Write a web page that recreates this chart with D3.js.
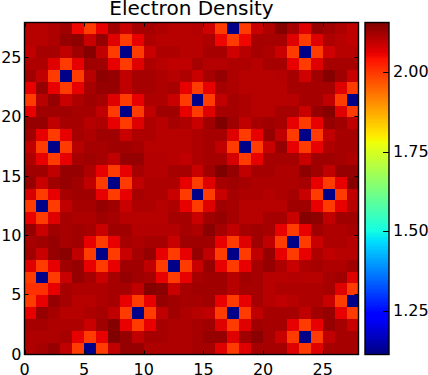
<!DOCTYPE html>
<html><head><meta charset="utf-8">
<script src="https://cdn.jsdelivr.net/npm/d3@7"></script>
<style>html,body{margin:0;padding:0;background:#fff}svg{display:block}text{font-family:"DejaVu Sans";fill:#000}</style>
</head><body><svg id="c" width="428" height="375"></svg>
<script>
const titleText = "Electron Density";
const axisTicks = [0, 5, 10, 15, 20, 25];
const colorTicks = [1.25, 1.5, 1.75, 2.0];
const vMin = 1.112, vMax = 2.157;
const O = 1.998, P = 1.12;
const row27 = [2.107,2.107,2.114,2.128,2.056,O,2.063,2.128,2.092,2.121,2.121,2.114,2.107,2.107,2.110,2.085,O,P,O,2.092,2.114,2.150,2.121,2.071,2.136,2.128,2.114,2.099];
const row26 = [2.107,2.107,2.114,2.136,2.143,2.092,2.136,2.071,O,2.063,2.114,2.107,2.107,2.107,2.107,2.114,2.056,O,2.056,2.121,2.121,2.121,2.071,O,2.071,2.114,2.107,2.099];
const row25 = [2.099,2.121,2.121,2.099,2.128,2.150,2.099,O,P,O,2.092,2.114,2.114,2.107,2.107,2.121,2.121,2.085,2.107,2.121,2.114,2.092,O,P,O,2.085,2.107,2.107];
const row24 = [2.114,2.114,2.071,O,2.063,2.128,2.128,2.063,O,2.071,2.114,2.107,2.099,2.099,2.121,2.110,2.110,2.114,2.114,2.107,2.121,2.121,2.063,O,2.071,2.121,2.121,2.121];
const row23 = [2.128,2.099,O,P,O,2.107,2.143,2.136,2.099,2.121,2.121,2.114,2.107,2.114,2.092,2.121,2.136,2.114,2.107,2.107,2.107,2.110,2.121,2.085,2.128,2.150,2.128,2.092];
const row22 = [2.063,2.136,2.063,O,2.063,2.121,2.136,2.136,2.099,2.121,2.121,2.114,2.121,2.063,O,2.063,2.121,2.114,2.107,2.107,2.107,2.107,2.121,2.121,2.121,2.121,2.071,O];
const row21 = [O,2.107,2.136,2.092,2.114,2.128,2.121,2.071,O,2.063,2.114,2.114,2.092,O,P,O,2.099,2.121,2.114,2.107,2.107,2.107,2.107,2.121,2.121,2.099,O,P];
const row20 = [2.063,2.128,2.128,2.128,2.121,2.121,2.099,O,P,O,2.099,2.128,2.128,2.063,O,2.071,2.121,2.121,2.114,2.107,2.107,2.121,2.121,2.092,2.136,2.150,2.071,O];
const row19 = [2.136,2.136,2.099,2.121,2.121,2.107,2.114,2.063,O,2.071,2.114,2.107,2.121,2.114,2.092,2.128,2.157,2.128,2.099,2.121,2.128,2.121,2.063,O,2.063,2.136,2.128,2.099];
const row18 = [2.128,2.063,O,2.063,2.121,2.114,2.128,2.128,2.092,2.114,2.114,2.107,2.107,2.107,2.114,2.121,2.121,2.071,O,2.063,2.136,2.099,O,P,O,2.099,2.121,2.121];
const row17 = [2.099,O,P,O,2.107,2.121,2.121,2.128,2.128,2.121,2.107,2.107,2.107,2.107,2.114,2.121,2.099,O,P,O,2.092,2.136,2.063,O,2.063,2.114,2.121,2.121];
const row16 = [2.114,2.063,O,2.063,2.121,2.128,2.121,2.099,2.136,2.136,2.110,2.110,2.107,2.099,2.114,2.121,2.121,2.078,O,2.063,2.121,2.121,2.121,2.092,2.128,2.128,2.121,2.114];
const row15 = [2.128,2.128,2.099,2.136,2.136,2.114,2.063,O,2.063,2.121,2.110,2.110,2.121,2.121,2.092,2.128,2.157,2.136,2.099,2.121,2.121,2.114,2.114,2.143,2.128,2.099,2.136,2.136];
const row14 = [2.136,2.092,2.128,2.136,2.128,2.099,O,P,O,2.099,2.114,2.114,2.114,2.063,O,2.071,2.121,2.128,2.121,2.114,2.114,2.114,2.114,2.121,2.063,O,2.063,2.150];
const row13 = [2.078,O,2.063,2.121,2.128,2.128,2.063,O,2.063,2.121,2.114,2.114,2.092,O,P,O,2.092,2.121,2.114,2.114,2.110,2.114,2.121,2.092,O,P,O,2.099];
const row12 = [O,P,O,2.099,2.121,2.121,2.136,2.128,2.092,2.114,2.114,2.107,2.114,2.063,O,2.071,2.128,2.121,2.107,2.107,2.107,2.107,2.128,2.128,2.063,O,2.063,2.107];
const row11 = [2.063,O,2.071,2.121,2.114,2.114,2.128,2.121,2.107,2.107,2.107,2.107,2.121,2.121,2.092,2.128,2.136,2.121,2.107,2.107,2.121,2.121,2.092,2.150,2.143,2.099,2.128,2.128];
const row10 = [2.136,2.092,2.128,2.121,2.128,2.121,2.092,2.128,2.128,2.110,2.110,2.110,2.110,2.121,2.114,2.147,2.121,2.099,2.121,2.128,2.121,2.063,O,2.063,2.128,2.114,2.114,2.121];
const row9 = [2.121,2.128,2.136,2.121,2.128,2.063,O,2.063,2.121,2.114,2.121,2.121,2.092,2.128,2.128,2.128,2.063,O,2.071,2.128,2.099,O,P,O,2.092,2.114,2.114,2.107];
const row8 = [2.128,2.092,2.136,2.147,2.099,O,P,O,2.092,2.121,2.136,2.063,O,2.063,2.136,2.099,O,P,O,2.099,2.136,2.063,O,2.063,2.114,2.099,2.107,2.107];
const row7 = [2.071,O,2.063,2.128,2.136,2.063,O,2.063,2.128,2.128,2.099,O,P,O,2.092,2.136,2.063,O,2.063,2.121,2.136,2.114,2.092,2.114,2.121,2.114,2.114,2.128];
const row6 = [O,P,O,2.092,2.136,2.121,2.092,2.121,2.136,2.128,2.121,2.063,O,2.063,2.121,2.128,2.128,2.107,2.128,2.121,2.107,2.107,2.110,2.107,2.107,2.121,2.128,2.071];
const row5 = [2.010,2.010,2.063,2.121,2.114,2.114,2.114,2.121,2.121,2.099,2.150,2.147,2.092,2.121,2.128,2.128,2.128,2.107,2.121,2.121,2.107,2.114,2.114,2.114,2.114,2.121,2.071,O];
const row4 = [O,2.063,2.136,2.121,2.107,2.107,2.114,2.121,2.063,O,2.063,2.136,2.128,2.121,2.121,2.128,2.063,O,2.063,2.121,2.107,2.099,2.107,2.114,2.114,2.092,O,P];
const row3 = [2.063,2.136,2.121,2.107,2.107,2.114,2.121,2.099,O,P,O,2.099,2.128,2.114,2.107,2.099,O,P,O,2.099,2.121,2.121,2.121,2.099,2.128,2.136,2.063,O];
const row2 = [2.121,2.121,2.114,2.114,2.114,2.092,2.128,2.150,2.063,O,2.063,2.121,2.114,2.114,2.121,2.128,2.071,O,2.071,2.128,2.121,2.121,2.063,O,2.063,2.136,2.121,2.092];
const row1 = [2.114,2.114,2.114,2.121,2.063,O,2.063,2.157,2.136,2.099,2.121,2.121,2.114,2.114,2.121,2.136,2.136,2.071,2.128,2.147,2.121,2.092,O,P,O,2.099,2.121,2.121];
const row0 = [2.114,2.121,2.136,2.099,O,P,O,2.099,2.136,2.136,2.114,2.114,2.114,2.114,2.121,2.121,2.071,O,2.071,2.121,2.121,2.121,2.071,O,2.071,2.121,2.121,2.121];
const rows = [row0,row1,row2,row3,row4,row5,row6,row7,row8,row9,row10,row11,row12,row13,row14,row15,row16,row17,row18,row19,row20,row21,row22,row23,row24,row25,row26,row27];

// matplotlib "jet"
const rS = d3.scaleLinear([0,.35,.66,.89,1],[0,0,1,1,.5]);
const gS = d3.scaleLinear([0,.125,.375,.64,.91,1],[0,0,1,1,0,0]);
const bS = d3.scaleLinear([0,.11,.34,.65,1],[.5,1,1,0,0]);
const norm = d3.scaleLinear([vMin,vMax],[0,1]).clamp(true);
const jet = v => { const t = norm(v); return d3.rgb(rS(t)*255,gS(t)*255,bS(t)*255).formatHex(); };

const L=24.5,R=358.5,T=22.5,B=354.5,CL=365,CR=389;
const svg = d3.select("#c");
const x = d3.scaleLinear([0,28],[L,R]);
const y = d3.scaleLinear([0,28],[B,T]);
const c = d3.scaleLinear([vMin,vMax],[B,T]);

svg.append("g").attr("shape-rendering","crispEdges").selectAll("g").data(rows).join("g")
  .each(function(r,j){
    d3.select(this).selectAll("rect").data(r).join("rect")
      .attr("x",(d,i)=>x(i)).attr("y",y(j+1))
      .attr("width",(d,i)=>x(i+1)-x(i)).attr("height",y(j)-y(j+1))
      .attr("fill",d=>jet(d));
  });

const step=(vMax-vMin)/256;
const ramp = d3.range(256).map(i=>vMin+step*i);
svg.append("g").attr("shape-rendering","crispEdges").selectAll("rect").data(ramp).join("rect")
  .attr("x",CL).attr("width",CR-CL)
  .attr("y",d=>c(d+step)).attr("height",d=>c(d)-c(d+step)+.6)
  .attr("fill",d=>jet(d+step/2));

const frame = svg.append("g").attr("fill","none").attr("stroke","#000").attr("stroke-width",1.4);
frame.append("rect").attr("x",L).attr("y",T).attr("width",R-L).attr("height",B-T);
frame.append("rect").attr("x",CL).attr("y",T).attr("width",CR-CL).attr("height",B-T);

const tk = svg.append("g").attr("stroke","#000").attr("stroke-width",1);
axisTicks.forEach(v=>{
  const xp=Math.round(x(v))+.5, yp=Math.round(y(v))-.5;
  tk.append("line").attr("x1",xp).attr("x2",xp).attr("y1",B).attr("y2",B-4);
  tk.append("line").attr("x1",xp).attr("x2",xp).attr("y1",T).attr("y2",T+4);
  tk.append("line").attr("x1",L).attr("x2",L+4).attr("y1",yp).attr("y2",yp);
  tk.append("line").attr("x1",R).attr("x2",R-4).attr("y1",yp).attr("y2",yp);
});
colorTicks.forEach(v=>{
  const yp=Math.round(c(v))+.5;
  tk.append("line").attr("x1",CR).attr("x2",CR-6).attr("y1",yp).attr("y2",yp);
});

const fs=16;
const tx = svg.append("g").attr("font-size",fs);
tx.selectAll(".xl").data(axisTicks).join("text").attr("class","xl")
  .attr("x",d=>x(d)).attr("y",374.5).attr("text-anchor","middle").text(d=>d);
tx.selectAll(".yl").data(axisTicks).join("text").attr("class","yl")
  .attr("x",L-3).attr("y",d=>y(d)+5).attr("text-anchor","end").text(d=>d);
tx.selectAll(".cl").data(colorTicks).join("text").attr("class","cl")
  .attr("x",CR+4).attr("y",d=>c(d)+5).text(d=>d3.format(".2f")(d));
svg.append("text").attr("x",191.5).attr("y",15).attr("text-anchor","middle")
  .attr("font-size",20).text(titleText);
</script></body></html>
